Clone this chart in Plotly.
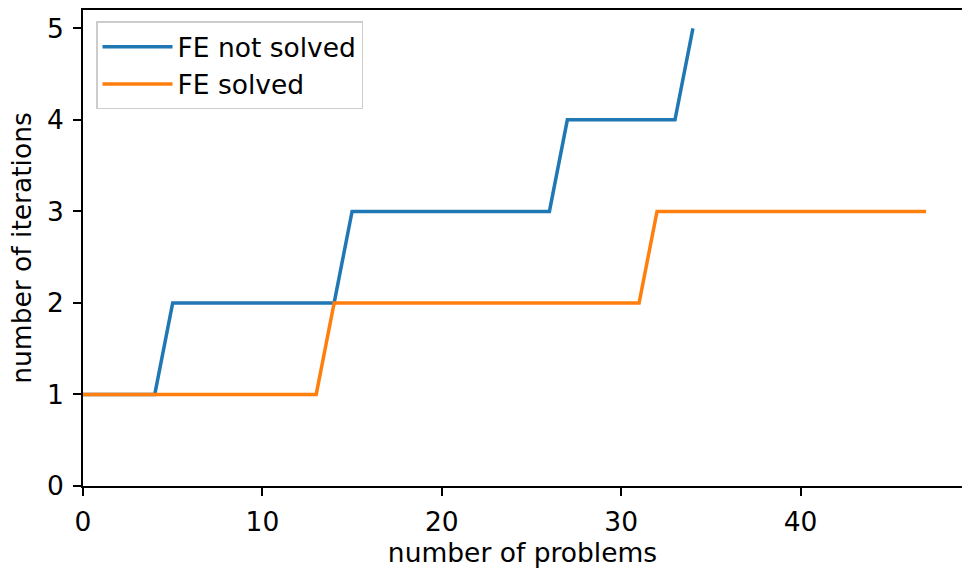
import plotly.graph_objects as go

# Iterations needed per problem, sorted ascending
problems_not_solved = list(range(35))
iters_not_solved = [1] * 5 + [2] * 10 + [3] * 12 + [4] * 7 + [5]

problems_solved = list(range(48))
iters_solved = [1] * 14 + [2] * 18 + [3] * 16

x_ticks = [0, 10, 20, 30, 40]
y_ticks = [0, 1, 2, 3, 4, 5]

font = dict(family="DejaVu Sans", size=26.5, color="black")

fig = go.Figure()
fig.add_trace(go.Scatter(x=problems_not_solved, y=iters_not_solved, mode="lines",
                         name="FE not solved", legendgroup="a",
                         line=dict(color="#1f77b4", width=3.5)))
fig.add_trace(go.Scatter(x=problems_solved, y=iters_solved, mode="lines",
                         name="FE solved", legendgroup="b",
                         line=dict(color="#ff7f0e", width=3.5)))

axis_common = dict(showgrid=False, zeroline=False, showline=True, linecolor="black",
                   linewidth=1.8, ticks="outside", ticklen=8, tickwidth=1.8,
                   tickcolor="black", tickfont=font)

fig.update_layout(
    width=963, height=568,
    margin=dict(l=83, r=1, t=10, b=82),
    paper_bgcolor="white", plot_bgcolor="white",
    font=font,
    xaxis=dict(range=[0, 49], tickvals=x_ticks, mirror=True, ticklabelstandoff=3,
               title=dict(text="number of problems", font=font, standoff=6),
               **axis_common),
    yaxis=dict(range=[0, 5.2], tickvals=y_ticks, mirror=False, ticklabelstandoff=4,
               title=dict(text="number of iterations", font=font, standoff=8),
               **axis_common),
    legend=dict(x=0.0148, y=0.976, xanchor="left", yanchor="top",
                bgcolor="white", bordercolor="#cccccc", borderwidth=1.5,
                font=font, itemwidth=70, tracegroupgap=0),
    showlegend=True,
)

fig.write_html("out.html")
